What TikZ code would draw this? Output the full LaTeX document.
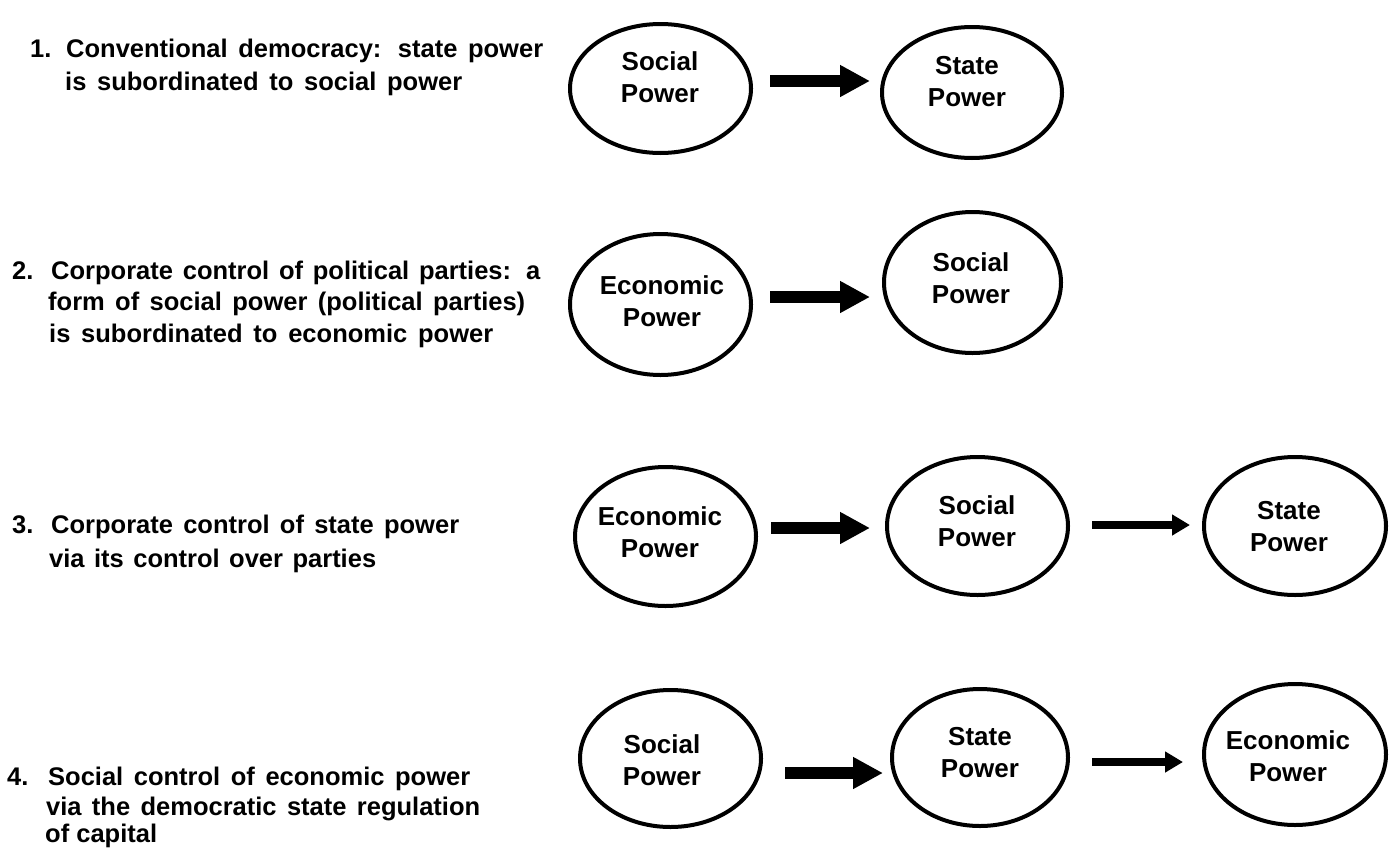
\documentclass[tikz,border=0pt]{standalone}
\usepackage{fontspec}
\setmainfont{Liberation Sans}
\usetikzlibrary{shapes.geometric,arrows.meta}
\begin{document}
\begin{tikzpicture}[x=1pt,y=-1pt,
  ell/.style={draw, ellipse, line width=4pt, inner sep=0pt},
  etext/.style={font=\bfseries\fontsize{26}{32}\selectfont, align=center, inner sep=0pt},
  ltext/.style={font=\bfseries\fontsize{25.5}{31}\selectfont, anchor=base west, inner sep=0pt},
  bigarrow/.style={line width=12pt, -{Triangle[length=30pt,width=30pt]}},
  smallarrow/.style={line width=8pt, -{Triangle[length=18pt,width=20pt]}}]
\useasboundingbox[fill=white] (0,0) rectangle (1392,857);

% ---- left texts ----
\node[ltext] (n1) at (30,57) {1.};
\node[ltext] (t1a) at (66,57) {\makebox[477pt][s]{Conventional democracy: state power}};
\node[ltext] (t1b) at (65,90) {\makebox[397pt][s]{is subordinated to social power}};

\node[ltext] (n2) at (12,279) {2.};
\node[ltext] (t2a) at (51,279) {\makebox[489pt][s]{Corporate control of political parties: a}};
\node[ltext] (t2b) at (48,310) {\makebox[477pt][s]{form of social power (political parties)}};
\node[ltext] (t2c) at (49,342) {\makebox[444pt][s]{is subordinated to economic power}};

\node[ltext] (n3) at (12,533) {3.};
\node[ltext] (t3a) at (51,533) {\makebox[408pt][s]{Corporate control of state power}};
\node[ltext] (t3b) at (49,567) {\makebox[327pt][s]{via its control over parties}};

\node[ltext] (n4) at (7,785) {4.};
\node[ltext] (t4a) at (48,785) {\makebox[422pt][s]{Social control of economic power}};
\node[ltext] (t4b) at (46,815) {\makebox[434pt][s]{via the democratic state regulation}};
\node[ltext] (t4c) at (45,842) {of capital};

% ---- ellipses ----
\node[ell, minimum width=181pt, minimum height=129pt] (e1a) at (660.5,88.5) {};
\node[ell, minimum width=180pt, minimum height=131pt] (e1b) at (972,92.5) {};
\node[ell, minimum width=181pt, minimum height=141pt] (e2a) at (660.5,304.5) {};
\node[ell, minimum width=177pt, minimum height=141pt] (e2b) at (972.5,282.5) {};
\node[ell, minimum width=181pt, minimum height=139pt] (e3a) at (665.5,536.5) {};
\node[ell, minimum width=181pt, minimum height=138pt] (e3b) at (977.5,526) {};
\node[ell, minimum width=182pt, minimum height=138pt] (e3c) at (1295,526) {};
\node[ell, minimum width=181pt, minimum height=137pt] (e4a) at (670.5,758.5) {};
\node[ell, minimum width=176pt, minimum height=137pt] (e4b) at (980,757.5) {};
\node[ell, minimum width=182pt, minimum height=141pt] (e4c) at (1295,754.5) {};

% ---- ellipse texts ----
\node[etext] (l1a) at (660,77.5) {Social\\Power};
\node[etext] (l1b) at (967,82) {State\\Power};
\node[etext] (l2a) at (662,301) {Economic\\Power};
\node[etext] (l2b) at (971,278) {Social\\Power};
\node[etext] (l3a) at (660,532) {Economic\\Power};
\node[etext] (l3b) at (977,521) {Social\\Power};
\node[etext] (l3c) at (1289,527) {State\\Power};
\node[etext] (l4a) at (662,760) {Social\\Power};
\node[etext] (l4b) at (980,753) {State\\Power};
\node[etext] (l4c) at (1288,756) {Economic\\Power};

% ---- arrow end points ----
\coordinate (a1s) at (770,81);   \coordinate (a1e) at (870,81);
\coordinate (a2s) at (770,297);  \coordinate (a2e) at (870,297);
\coordinate (a3s) at (771,528);  \coordinate (a3e) at (870,528);
\coordinate (b3s) at (1092,525); \coordinate (b3e) at (1190,525);
\coordinate (a4s) at (785,773);  \coordinate (a4e) at (883,773);
\coordinate (b4s) at (1092,762); \coordinate (b4e) at (1183,762);

\draw[bigarrow] (a1s) -- (a1e);
\draw[bigarrow] (a2s) -- (a2e);
\draw[bigarrow] (a3s) -- (a3e);
\draw[smallarrow] (b3s) -- (b3e);
\draw[bigarrow] (a4s) -- (a4e);
\draw[smallarrow] (b4s) -- (b4e);
\end{tikzpicture}
\end{document}
